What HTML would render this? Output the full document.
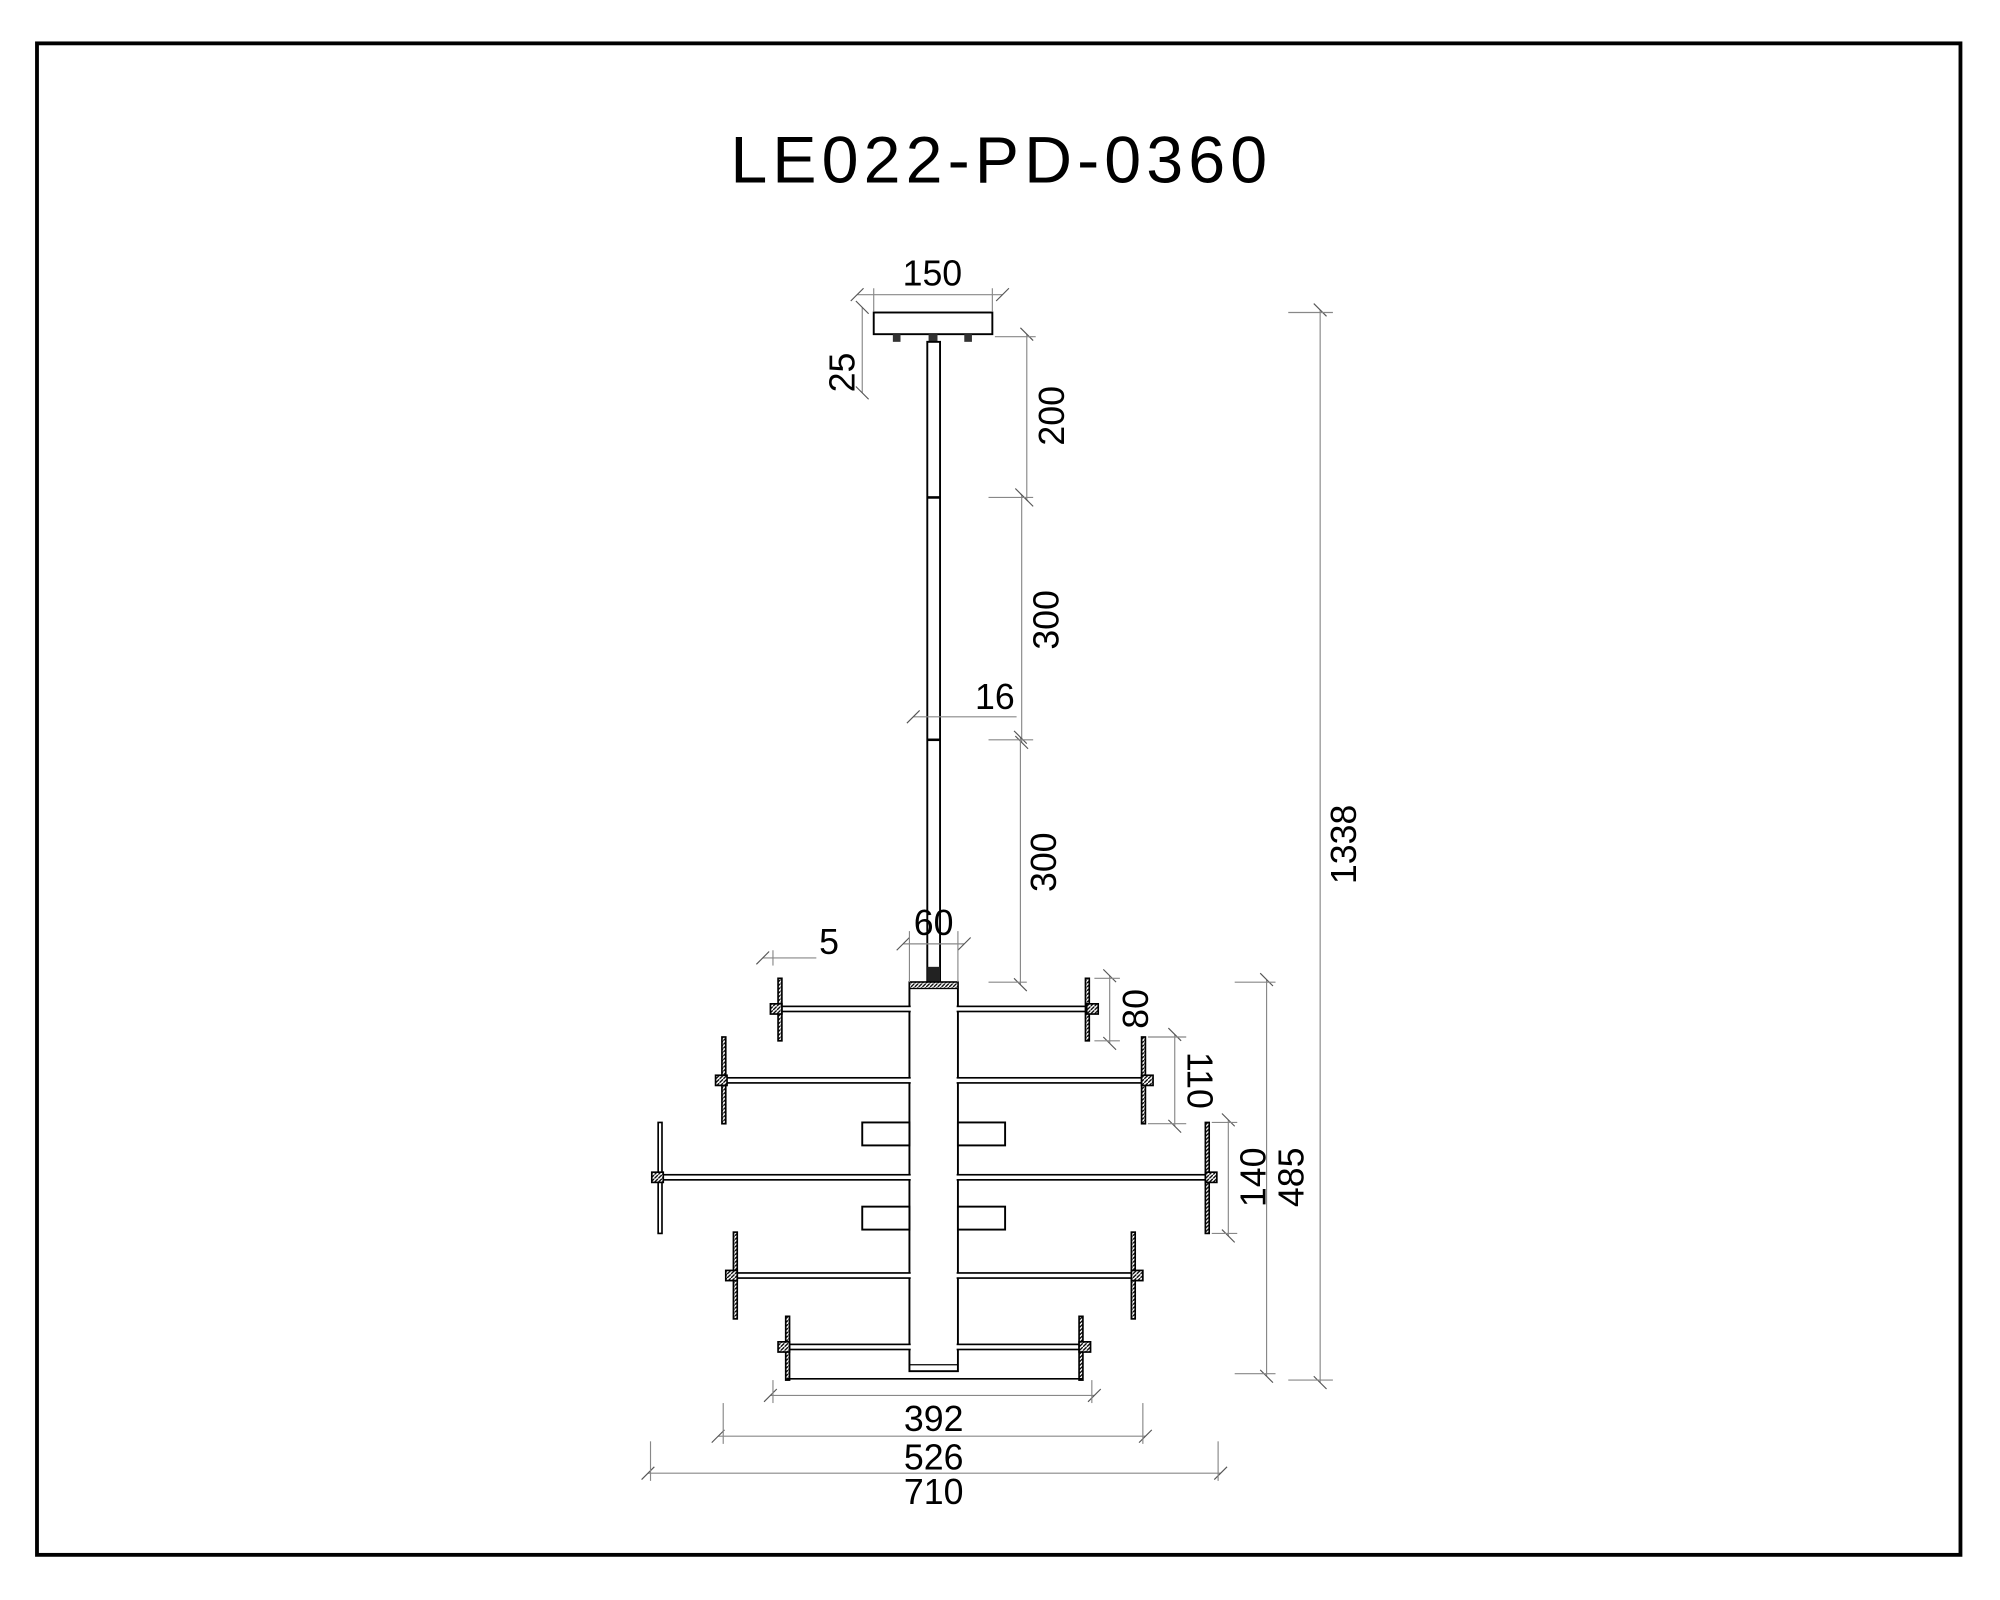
<!DOCTYPE html>
<html><head><meta charset="utf-8"><style>
html,body{margin:0;padding:0;background:#fff;}
svg{display:block;}
text{font-family:"Liberation Sans Narrow","Liberation Sans",sans-serif;fill:#000;}
</style></head><body>
<svg width="2000" height="1600" viewBox="0 0 1568 1254.4" xmlns="http://www.w3.org/2000/svg">
<defs>
<marker id="t" viewBox="-6 -6 12 12" markerWidth="12" markerHeight="12" refX="0" refY="0" orient="auto" markerUnits="userSpaceOnUse">
<path d="M-5,5 L5,-5" stroke="#555" stroke-width="0.9"/>
</marker>
<pattern id="h" width="3" height="3" patternUnits="userSpaceOnUse"><rect width="3" height="3" fill="#fff"/><path d="M0,3 L3,0" stroke="#000" stroke-width="1"/></pattern>
</defs>
<rect x="29" y="34" width="1508" height="1185" fill="none" stroke="#000" stroke-width="3"/>
<text x="785" y="143" font-size="52" text-anchor="middle" style="font-family:'Liberation Sans',sans-serif;letter-spacing:4px">LE022-PD-0360</text>

<rect x="685" y="245" width="93" height="17" fill="#fff" stroke="#000" stroke-width="1.5"/>
<rect x="700" y="262" width="6" height="6" fill="#333"/><rect x="756" y="262" width="6" height="6" fill="#333"/><rect x="728" y="262" width="7" height="6" fill="#333"/>
<rect x="727" y="268" width="10" height="502" fill="#fff" stroke="#000" stroke-width="1.5"/>
<line x1="727" y1="390" x2="737" y2="390" stroke="#000" stroke-width="2"/>
<line x1="727" y1="580" x2="737" y2="580" stroke="#000" stroke-width="2"/>
<rect x="727" y="758" width="10" height="12" fill="#222"/>

<rect x="713" y="770" width="38" height="305" fill="#fff" stroke="#000" stroke-width="1.5"/>
<rect x="713" y="770" width="38" height="5" fill="url(#h)" stroke="#000" stroke-width="1"/>
<line x1="713" y1="1070" x2="751" y2="1070" stroke="#000"/>
<rect x="676" y="880" width="37" height="18" fill="#fff" stroke="#000" stroke-width="1.5"/>
<rect x="751" y="880" width="37" height="18" fill="#fff" stroke="#000" stroke-width="1.5"/>
<rect x="676" y="946" width="37" height="18" fill="#fff" stroke="#000" stroke-width="1.5"/>
<rect x="751" y="946" width="37" height="18" fill="#fff" stroke="#000" stroke-width="1.5"/>

<g stroke="#000" stroke-width="1.3">
<rect x="611" y="789" width="241" height="4" fill="#fff"/>
<rect x="567" y="845" width="329" height="4" fill="#fff"/>
<rect x="517" y="921" width="429" height="4" fill="#fff"/>
<rect x="576" y="998" width="312" height="4" fill="#fff"/>
<rect x="617" y="1054" width="230" height="4" fill="#fff"/>
</g>
<rect x="714" y="776" width="36" height="293" fill="#fff"/>
<g stroke="#000" stroke-width="1.3" fill="url(#h)">
<rect x="610" y="767" width="3" height="49"/><rect x="851" y="767" width="3" height="49"/>
<rect x="566" y="813" width="3" height="68"/><rect x="895" y="813" width="3" height="68"/>
<rect x="516" y="880" width="3" height="87" fill="#fff"/><rect x="945" y="880" width="3" height="87"/>
<rect x="575" y="966" width="3" height="68"/><rect x="887" y="966" width="3" height="68"/>
<rect x="616" y="1032" width="3" height="50"/><rect x="846" y="1032" width="3" height="50"/>
<rect x="604" y="787" width="9" height="8"/><rect x="852" y="787" width="9" height="8"/>
<rect x="561" y="843" width="9" height="8"/><rect x="895" y="843" width="9" height="8"/>
<rect x="511" y="919" width="9" height="8"/><rect x="945" y="919" width="9" height="8"/>
<rect x="569" y="996" width="9" height="8"/><rect x="887" y="996" width="9" height="8"/>
<rect x="610" y="1052" width="9" height="8"/><rect x="846" y="1052" width="9" height="8"/>
</g>
<line x1="617" y1="1081" x2="848" y2="1081" stroke="#000" stroke-width="1.3"/>

<g stroke="#888" stroke-width="0.9" fill="none">
<line x1="672" y1="231" x2="786" y2="231" marker-start="url(#t)" marker-end="url(#t)"/>
<line x1="685" y1="226" x2="685" y2="244"/><line x1="778" y1="226" x2="778" y2="244"/>
<line x1="676" y1="241" x2="676" y2="308" marker-start="url(#t)" marker-end="url(#t)"/>
<line x1="805" y1="262" x2="805" y2="392" marker-start="url(#t)" marker-end="url(#t)"/>
<line x1="780" y1="264" x2="812" y2="264"/>
<line x1="801" y1="388" x2="801" y2="582" marker-start="url(#t)" marker-end="url(#t)"/>
<line x1="775" y1="390" x2="810" y2="390"/>
<line x1="716" y1="562" x2="797" y2="562" marker-start="url(#t)"/>
<line x1="800" y1="578" x2="800" y2="772" marker-start="url(#t)" marker-end="url(#t)"/>
<line x1="775" y1="580" x2="810" y2="580"/><line x1="775" y1="770" x2="805" y2="770"/>
<line x1="708" y1="740" x2="756" y2="740" marker-start="url(#t)" marker-end="url(#t)"/>
<line x1="713" y1="730" x2="713" y2="770"/><line x1="751" y1="730" x2="751" y2="770"/>
<line x1="598" y1="751" x2="640" y2="751" marker-start="url(#t)"/>
<line x1="606" y1="745" x2="606" y2="757"/>
<line x1="870" y1="765" x2="870" y2="818" marker-start="url(#t)" marker-end="url(#t)"/>
<line x1="858" y1="767" x2="878" y2="767"/><line x1="858" y1="816" x2="878" y2="816"/>
<line x1="921" y1="811" x2="921" y2="883" marker-start="url(#t)" marker-end="url(#t)"/>
<line x1="900" y1="813" x2="930" y2="813"/><line x1="900" y1="881" x2="930" y2="881"/>
<line x1="963" y1="878" x2="963" y2="969" marker-start="url(#t)" marker-end="url(#t)"/>
<line x1="950" y1="880" x2="970" y2="880"/><line x1="950" y1="967" x2="970" y2="967"/>
<line x1="993" y1="768" x2="993" y2="1079" marker-start="url(#t)" marker-end="url(#t)"/>
<line x1="968" y1="770" x2="1000" y2="770"/><line x1="968" y1="1077" x2="1000" y2="1077"/>
<line x1="1035" y1="243" x2="1035" y2="1084" marker-start="url(#t)" marker-end="url(#t)"/>
<line x1="1010" y1="245" x2="1045" y2="245"/><line x1="1010" y1="1082" x2="1045" y2="1082"/>
<line x1="604" y1="1094" x2="858" y2="1094" marker-start="url(#t)" marker-end="url(#t)"/>
<line x1="606" y1="1082" x2="606" y2="1100"/><line x1="856" y1="1082" x2="856" y2="1100"/>
<line x1="563" y1="1126" x2="898" y2="1126" marker-start="url(#t)" marker-end="url(#t)"/>
<line x1="567" y1="1100" x2="567" y2="1132"/><line x1="896" y1="1100" x2="896" y2="1132"/>
<line x1="508" y1="1155" x2="957" y2="1155" marker-start="url(#t)" marker-end="url(#t)"/>
<line x1="510" y1="1130" x2="510" y2="1161"/><line x1="955" y1="1130" x2="955" y2="1161"/>
</g>

<g font-size="28" text-anchor="middle">
<text x="731" y="224">150</text>
<text transform="translate(670,292) rotate(-90)">25</text>
<text transform="translate(834,326) rotate(-90)">200</text>
<text transform="translate(830,486) rotate(-90)">300</text>
<text x="780" y="556">16</text>
<text transform="translate(828,676) rotate(-90)">300</text>
<text x="732" y="733">60</text>
<text x="650" y="748">5</text>
<text transform="translate(900,791) rotate(-90)">80</text>
<text transform="translate(931,847) rotate(90)">110</text>
<text transform="translate(992,923) rotate(-90)">140</text>
<text transform="translate(1022,923) rotate(-90)">485</text>
<text transform="translate(1063,662) rotate(-90)">1338</text>
<text x="732" y="1122">392</text>
<text x="732" y="1152">526</text>
<text x="732" y="1179">710</text>
</g>
</svg>
</body></html>
